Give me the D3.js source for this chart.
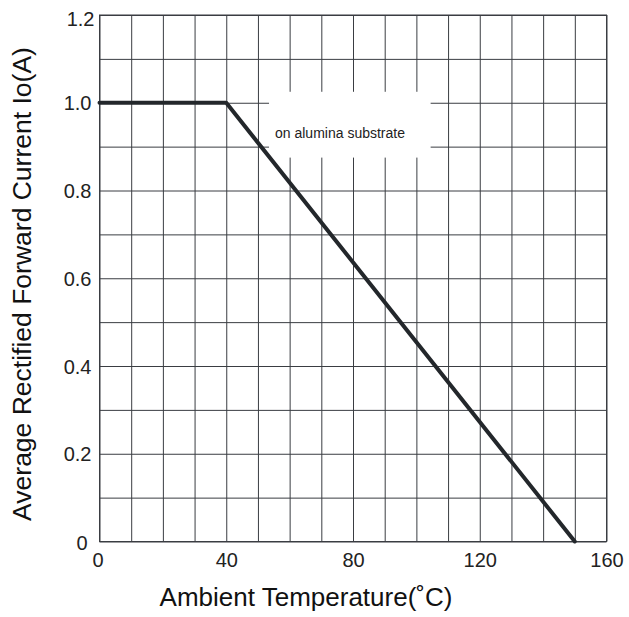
<!DOCTYPE html>
<html>
<head>
<meta charset="utf-8">
<script src="https://cdn.jsdelivr.net/npm/d3@7"></script>
<style>
  html, body { margin: 0; padding: 0; background: #fff; }
  svg { display: block; }
  text { font-family: "Liberation Sans", Arial, sans-serif; }
</style>
</head>
<body>
<svg id="chart" width="629" height="617"></svg>
<script>
// ---- data ----
const tempC = [0, 40, 150];
const currentA = [1.0, 1.0, 0];
const xGridValues = d3.range(0, 161, 10);
const yGridValues = d3.range(0, 13).map(i => i / 10);
const xTickLabels = [0, 40, 80, 120, 160];
const yTickLabels = [0, 0.2, 0.4, 0.6, 0.8, 1.0, 1.2];
const xTitle = "Ambient Temperature(˚C)";
const yTitle = "Average Rectified Forward Current Io(A)";
const noteText = "on alumina substrate";
const noteBox = [53.5, 104.5, 0.875, 1.025]; // x0, x1, y0, y1 in data units

// ---- layout ----
const svg = d3.select("#chart");
const pLeft = 99.5, pRight = 606.5, pTop = 15, pBottom = 541.5;
const x = d3.scaleLinear().domain([0, 160]).range([pLeft, pRight]);
const y = d3.scaleLinear().domain([0, 1.2]).range([pBottom, pTop]);
const gridColor = "#3a3d42";
const textColor = "#222";

// grid
const gx = svg.append("g").attr("transform", `translate(0,${pBottom})`)
  .call(d3.axisBottom(x).tickValues(xGridValues).tickSize(-(pBottom - pTop)).tickFormat(""));
const gy = svg.append("g").attr("transform", `translate(${pLeft},0)`)
  .call(d3.axisLeft(y).tickValues(yGridValues).tickSize(-(pRight - pLeft)).tickFormat(""));
[gx, gy].forEach(g => {
  g.select(".domain").remove();
  g.selectAll("line").attr("stroke", gridColor).attr("stroke-width", 1);
});

// annotation box
svg.append("rect")
  .attr("x", x(noteBox[0])).attr("y", y(noteBox[3]))
  .attr("width", x(noteBox[1]) - x(noteBox[0]))
  .attr("height", y(noteBox[2]) - y(noteBox[3]))
  .attr("fill", "#fff");
svg.append("text")
  .attr("x", x(noteBox[0]) + 6).attr("y", y(0.92))
  .attr("font-size", 14).attr("fill", textColor)
  .text(noteText);

// frame
svg.append("rect")
  .attr("x", pLeft).attr("y", pTop)
  .attr("width", pRight - pLeft).attr("height", pBottom - pTop)
  .attr("fill", "none").attr("stroke", gridColor).attr("stroke-width", 1);

// x tick labels
const xa = svg.append("g").attr("transform", `translate(0,${pBottom})`)
  .call(d3.axisBottom(x).tickValues(xTickLabels).tickSize(0).tickPadding(0).tickFormat(d3.format("d")));
xa.select(".domain").remove();
xa.selectAll("text")
  .attr("x", d => d === 0 ? -2 : 0)
  .attr("y", 25).attr("dy", null)
  .attr("font-size", 20).attr("fill", textColor)
  .attr("font-family", "Liberation Sans, Arial, sans-serif");

// y tick labels
const ya = svg.append("g").attr("transform", `translate(${pLeft},0)`)
  .call(d3.axisLeft(y).tickValues(yTickLabels).tickSize(0).tickPadding(0)
    .tickFormat(d => d === 0 ? "0" : d3.format(".1f")(d)));
ya.select(".domain").remove();
ya.selectAll("text")
  .attr("x", d => d === 0 ? -12 : (d === 1.2 ? -5 : -8))
  .attr("y", d => d === 1.2 ? 3 : (d === 0 ? 1 : 0))
  .attr("dy", "0.36em")
  .attr("font-size", 20).attr("fill", textColor)
  .attr("font-family", "Liberation Sans, Arial, sans-serif");

// derating line
const pts = tempC.map((t, i) => [t, currentA[i]]);
svg.append("path")
  .datum(pts)
  .attr("d", d3.line().x(d => x(d[0])).y(d => y(d[1])))
  .attr("fill", "none").attr("stroke", "#23272b").attr("stroke-width", 4)
  .attr("stroke-linejoin", "round").attr("stroke-linecap", "round");

// axis titles
svg.append("text")
  .attr("x", 306).attr("y", 606)
  .attr("text-anchor", "middle").attr("font-size", 26).attr("fill", "#111")
  .text(xTitle);
svg.append("text")
  .attr("transform", "translate(31,284) rotate(-90)")
  .attr("text-anchor", "middle").attr("font-size", 26.5).attr("fill", "#111")
  .text(yTitle);
</script>
</body>
</html>
